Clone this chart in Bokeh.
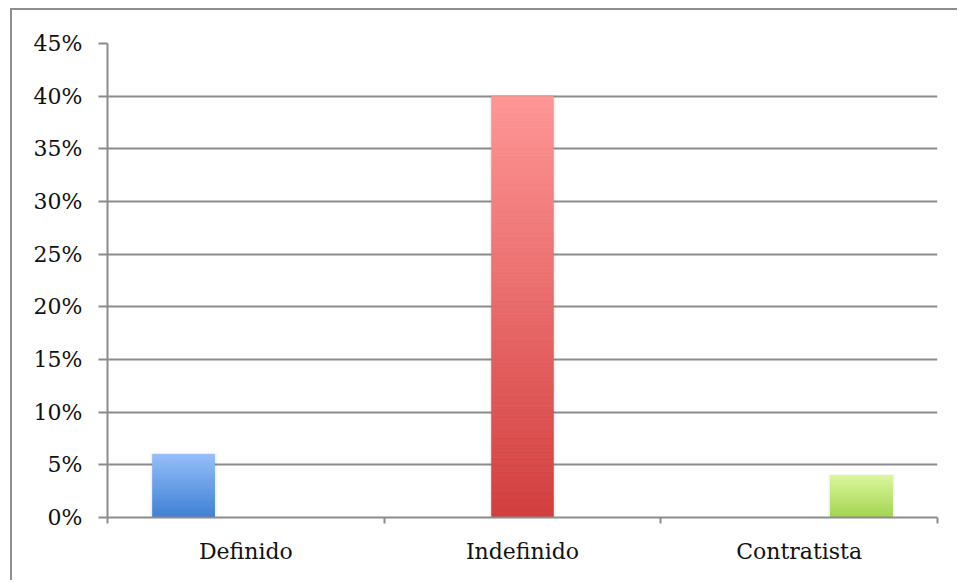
from bokeh.plotting import figure
from bokeh.models import FixedTicker, NumeralTickFormatter, Range1d
from bokeh.embed import file_html
from bokeh.resources import INLINE

# Chart data
categories = ["Definido", "Indefinido", "Contratista"]
shares = [0.06, 0.40, 0.04]
y_ticks = [0.0, 0.05, 0.10, 0.15, 0.20, 0.25, 0.30, 0.35, 0.40, 0.45]

# Gradient colours per series (top, bottom)
top_colors = ["#95bff9", "#ff9696", "#daf89c"]
bottom_colors = ["#3f80d5", "#d23e3e", "#a3d452"]

FONT = "DejaVu Serif"
GRID = "#8c8c8c"

# The figure sits inside a framed box offset from the page corner
p = figure(width=947, height=572, output_backend="svg", toolbar_location=None,
           x_range=Range1d(0, 3), y_range=Range1d(0, 0.45),
           min_border_left=95, min_border_right=22,
           min_border_top=33, min_border_bottom=65,
           background_fill_color="white", border_fill_color="white",
           margin=(8, 0, 0, 10),
           styles={"border-left": "2px solid #8f8f8f",
                   "border-top": "2px solid #8f8f8f"})
p.outline_line_color = None


def hex_to_rgb(h):
    h = h.lstrip("#")
    return tuple(int(h[i:i + 2], 16) for i in (0, 2, 4))


def mix(c1, c2, t):
    a, b = hex_to_rgb(c1), hex_to_rgb(c2)
    return "#%02x%02x%02x" % tuple(round(a[k] + (b[k] - a[k]) * t) for k in range(3))


n_series = len(categories)
slot = 0.225
strips = 120
for i, (cat, val) in enumerate(zip(categories, shares)):
    center = i + 0.5 + (i - (n_series - 1) / 2) * slot
    # soft shadow behind the bar
    p.vbar(x=[center], width=slot * 1.06, bottom=0, top=[val + 0.0008],
           fill_color="#000000", fill_alpha=0.06, line_color=None)
    bottoms, tops, colors = [], [], []
    for k in range(strips):
        bottoms.append(val * k / strips)
        tops.append(val * (k + 1) / strips)
        colors.append(mix(bottom_colors[i], top_colors[i], (k + 0.5) / strips))
    p.vbar(x=[center] * strips, width=slot * 0.99, bottom=bottoms, top=tops,
           fill_color=colors, line_color=colors, line_width=0.8)

# Y axis
p.yaxis.ticker = FixedTicker(ticks=y_ticks)
p.yaxis.formatter = NumeralTickFormatter(format="0%")
p.yaxis.axis_line_color = GRID
p.yaxis.axis_line_width = 2
p.yaxis.major_tick_line_color = GRID
p.yaxis.major_tick_line_width = 2
p.yaxis.major_tick_out = 9
p.yaxis.major_tick_in = 0
p.yaxis.minor_tick_line_color = None
p.yaxis.major_label_text_font = FONT
p.yaxis.major_label_text_font_size = "22px"
p.yaxis.major_label_text_color = "#111111"
p.yaxis.major_label_standoff = 16

# X axis: labels at category centres, tick marks at category boundaries
p.xaxis.ticker = FixedTicker(ticks=[0.5, 1.5, 2.5], minor_ticks=[0, 1, 2, 3])
p.xaxis.major_label_overrides = {0.5: categories[0], 1.5: categories[1], 2.5: categories[2]}
p.xaxis.axis_line_color = GRID
p.xaxis.axis_line_width = 2
p.xaxis.major_tick_line_color = None
p.xaxis.minor_tick_line_color = GRID
p.xaxis.minor_tick_line_width = 2
p.xaxis.minor_tick_out = 6
p.xaxis.minor_tick_in = 0
p.xaxis.major_label_text_font = FONT
p.xaxis.major_label_text_font_size = "22px"
p.xaxis.major_label_text_color = "#111111"
p.xaxis.major_label_standoff = 15

p.xgrid.grid_line_color = None
p.ygrid.grid_line_color = GRID
p.ygrid.grid_line_width = 2
p.ygrid.ticker = FixedTicker(ticks=y_ticks)

open("out.html", "w").write(file_html(p, INLINE))
